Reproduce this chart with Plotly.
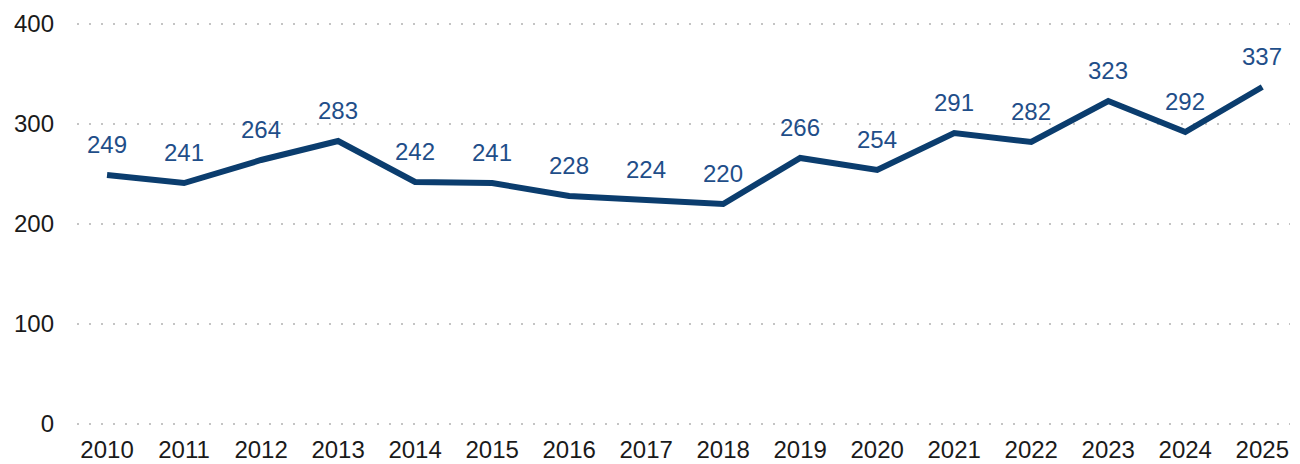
import plotly.graph_objects as go

years = ["2010","2011","2012","2013","2014","2015","2016","2017","2018","2019","2020","2021","2022","2023","2024","2025"]
values = [249,241,264,283,242,241,228,224,220,266,254,291,282,323,292,337]
y_ticks = [0,100,200,300,400]

xs = list(range(len(years)))
FONT = "Liberation Sans, Arial"

fig = go.Figure(go.Scatter(
    x=xs, y=values, mode="lines",
    line=dict(color="#0b3d6e", width=6),
    cliponaxis=False, hoverinfo="skip",
))

for x, v in zip(xs, values):
    fig.add_annotation(
        x=x, y=v, text=str(v), showarrow=False,
        yanchor="bottom", xanchor="center", yshift=15,
        font=dict(family=FONT, size=24, color="#1f4e89"),
    )

fig.update_layout(
    width=1300, height=464,
    margin=dict(l=77, r=10, t=22, b=38, autoexpand=False),
    plot_bgcolor="white", paper_bgcolor="white",
    showlegend=False,
    font=dict(family=FONT, size=24, color="#1a1a1a"),
)
fig.update_xaxes(
    tickmode="array", tickvals=xs, ticktext=years,
    range=[-0.39, 15.36], showgrid=False, zeroline=False, showline=False,
    ticks="", automargin=False, ticklabelstandoff=7,
    tickfont=dict(family=FONT, size=24, color="#1a1a1a"),
)
fig.update_yaxes(
    range=[-2, 402], tickvals=y_ticks, showgrid=True,
    gridcolor="#c4c4c4", griddash="2px,10px", gridwidth=2,
    zeroline=False, showline=False, ticks="", ticklabelstandoff=22,
    automargin=False,
    tickfont=dict(family=FONT, size=24, color="#1a1a1a"),
)

fig.write_html(
    "out.html",
    config={"displayModeBar": False, "staticPlot": True},
    post_script="document.body.style.margin='0px';document.body.style.overflow='hidden';",
)
